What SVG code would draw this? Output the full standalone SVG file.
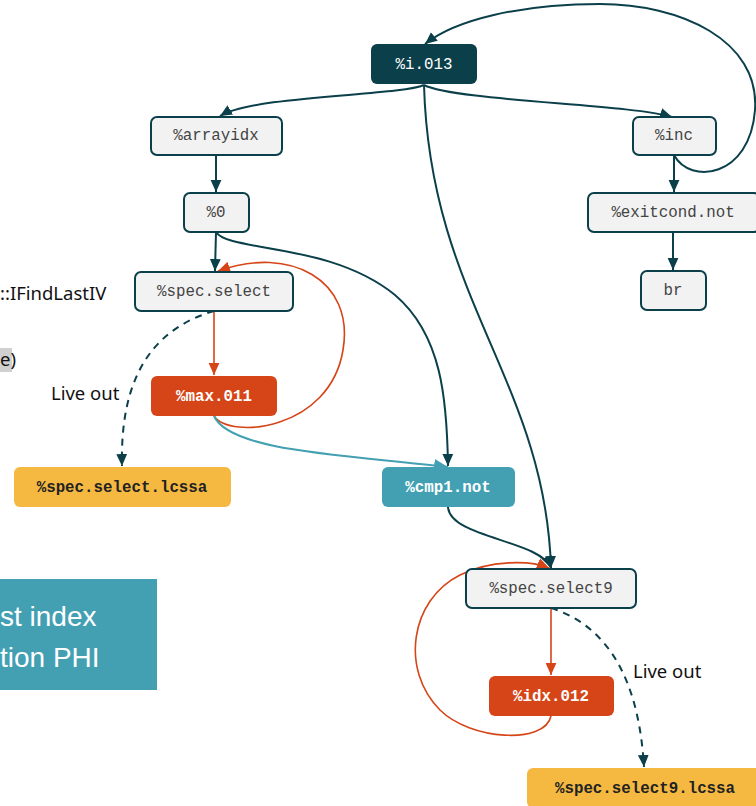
<svg xmlns="http://www.w3.org/2000/svg" width="756" height="806" viewBox="0 0 756 806">
<defs>
<style>
.nd{fill:#f2f2f2;stroke:#0b3f4a;stroke-width:2}
.t{font-family:"Liberation Mono","Courier New",monospace;font-size:15.8px;text-anchor:middle;dominant-baseline:central}
.tg{fill:#444}
.tw{fill:#fff;font-weight:bold}
.tb{fill:#222;font-weight:bold}
.e{fill:none;stroke:#0b3f4a;stroke-width:2}
.eo{fill:none;stroke:#d64518;stroke-width:1.6}
.et{fill:none;stroke:#43a0b3;stroke-width:2}
.d{stroke-dasharray:7,6}
.lbl{font-family:"Noto Sans","Liberation Sans",sans-serif;font-size:18.5px;fill:#111}
</style>
<marker id="ad" viewBox="0 0 10 10" refX="10" refY="5" markerUnits="userSpaceOnUse" markerWidth="12" markerHeight="12" orient="auto"><path d="M0,0.5L10,5L0,9.5z" fill="#0b3f4a"/></marker>
<marker id="ao" viewBox="0 0 10 10" refX="10" refY="5" markerUnits="userSpaceOnUse" markerWidth="12" markerHeight="12" orient="auto"><path d="M0,0.5L10,5L0,9.5z" fill="#d64518"/></marker>
<marker id="at" viewBox="0 0 10 10" refX="10" refY="5" markerUnits="userSpaceOnUse" markerWidth="14" markerHeight="14" orient="auto"><path d="M0,0.5L10,5L0,9.5z" fill="#43a0b3"/></marker>
</defs>
<rect width="756" height="806" fill="#fff"/>

<g id="side">
<text class="lbl" x="0" y="300">::IFindLastIV</text>
<rect x="0" y="348" width="12" height="24" fill="#d0d0d0"/>
<text class="lbl" x="0" y="366">e)</text>
<text class="lbl" x="51" y="400">Live out</text>
<text class="lbl" x="633" y="678">Live out</text>
<rect x="0" y="579" width="157" height="111" fill="#43a0b3"/>
<text x="0" y="626" font-family="'Liberation Sans',Arial,sans-serif" font-size="28" fill="#fff">st index</text>
<text x="0" y="667" font-family="'Liberation Sans',Arial,sans-serif" font-size="28" fill="#fff">tion PHI</text>
</g>

<g id="edges">
<path class="e" d="M424,85 C400,96 255,95 220,116" marker-end="url(#ad)"/>
<path class="e" d="M424,85 C455,101 630,104 672,117" marker-end="url(#ad)"/>
<path class="e" d="M424,85 C430,300 545,380 551,568" marker-end="url(#ad)"/>
<path class="e" d="M674,155 C690,185 750,178 755,110 C760,40 680,4 600,4 C520,4 455,20 425,44" marker-end="url(#ad)"/>
<path class="e" d="M674,155 L674,192" marker-end="url(#ad)"/>
<path class="e" d="M673,232 L673,270" marker-end="url(#ad)"/>
<path class="e" d="M216,155 L216,192" marker-end="url(#ad)"/>
<path class="e" d="M216,232 L215,271" marker-end="url(#ad)"/>
<path class="e" d="M216,232 C228,252 330,242 395,295 C442,335 447,400 448,466" marker-end="url(#ad)"/>
<path class="eo" d="M214,311 L214,375" marker-end="url(#ao)"/>
<path class="eo" d="M214,416 C230,440 330,430 343,350 C355,280 290,245 218,271" marker-end="url(#ao)"/>
<path class="et" d="M214,416 C230,452 350,455 448,467" marker-end="url(#at)"/>
<path class="e d" d="M214,311 C150,330 120,380 122,466" marker-end="url(#ad)"/>
<path class="e" d="M448,507 C450,538 540,540 551,568" marker-end="url(#ad)"/>
<path class="eo" d="M551,608 L551,675" marker-end="url(#ao)"/>
<path class="eo" d="M551,716 C545,745 470,740 440,710 C400,670 410,600 460,575 C490,560 530,560 549,568" marker-end="url(#ao)"/>
<path class="e d" d="M551,608 C620,630 640,700 644,767" marker-end="url(#ad)"/>
</g>

<g id="n_i013"><rect x="371" y="44" width="106" height="40" rx="6" fill="#0b3f4a"/><text class="t" x="424" y="65" fill="#fff">%i.013</text></g>
<g id="n_arrayidx"><rect class="nd" x="151" y="117" width="131" height="38" rx="6"/><text class="t tg" x="216" y="136">%arrayidx</text></g>
<g id="n_0"><rect class="nd" x="184" y="193" width="65" height="39" rx="6"/><text class="t tg" x="216" y="213">%0</text></g>
<g id="n_specselect"><rect class="nd" x="135" y="272" width="158" height="39" rx="6"/><text class="t tg" x="214" y="292">%spec.select</text></g>
<g id="n_max011"><rect x="151" y="376" width="126" height="40" rx="6" fill="#d64518"/><text class="t tw" x="214" y="397">%max.011</text></g>
<g id="n_specselectlcssa"><rect x="14" y="467" width="217" height="40" rx="6" fill="#f5b942"/><text class="t tb" x="122" y="488">%spec.select.lcssa</text></g>
<g id="n_cmp1not"><rect x="382" y="467" width="133" height="40" rx="6" fill="#43a0b3"/><text class="t tw" x="448" y="488">%cmp1.not</text></g>
<g id="n_specselect9"><rect class="nd" x="466" y="569" width="170" height="39" rx="6"/><text class="t tg" x="551" y="589">%spec.select9</text></g>
<g id="n_idx012"><rect x="489" y="676" width="125" height="40" rx="6" fill="#d64518"/><text class="t tw" x="551" y="697">%idx.012</text></g>
<g id="n_specselect9lcssa"><rect x="527" y="768" width="240" height="40" rx="6" fill="#f5b942"/><text class="t tb" x="645" y="789">%spec.select9.lcssa</text></g>
<g id="n_inc"><rect class="nd" x="633" y="117" width="83" height="38" rx="6"/><text class="t tg" x="674" y="136">%inc</text></g>
<g id="n_exitcond"><rect class="nd" x="588" y="193" width="172" height="39" rx="6"/><text class="t tg" x="673" y="213">%exitcond.not</text></g>
<g id="n_br"><rect class="nd" x="641" y="271" width="65" height="39" rx="6"/><text class="t tg" x="673" y="291">br</text></g>
</svg>
